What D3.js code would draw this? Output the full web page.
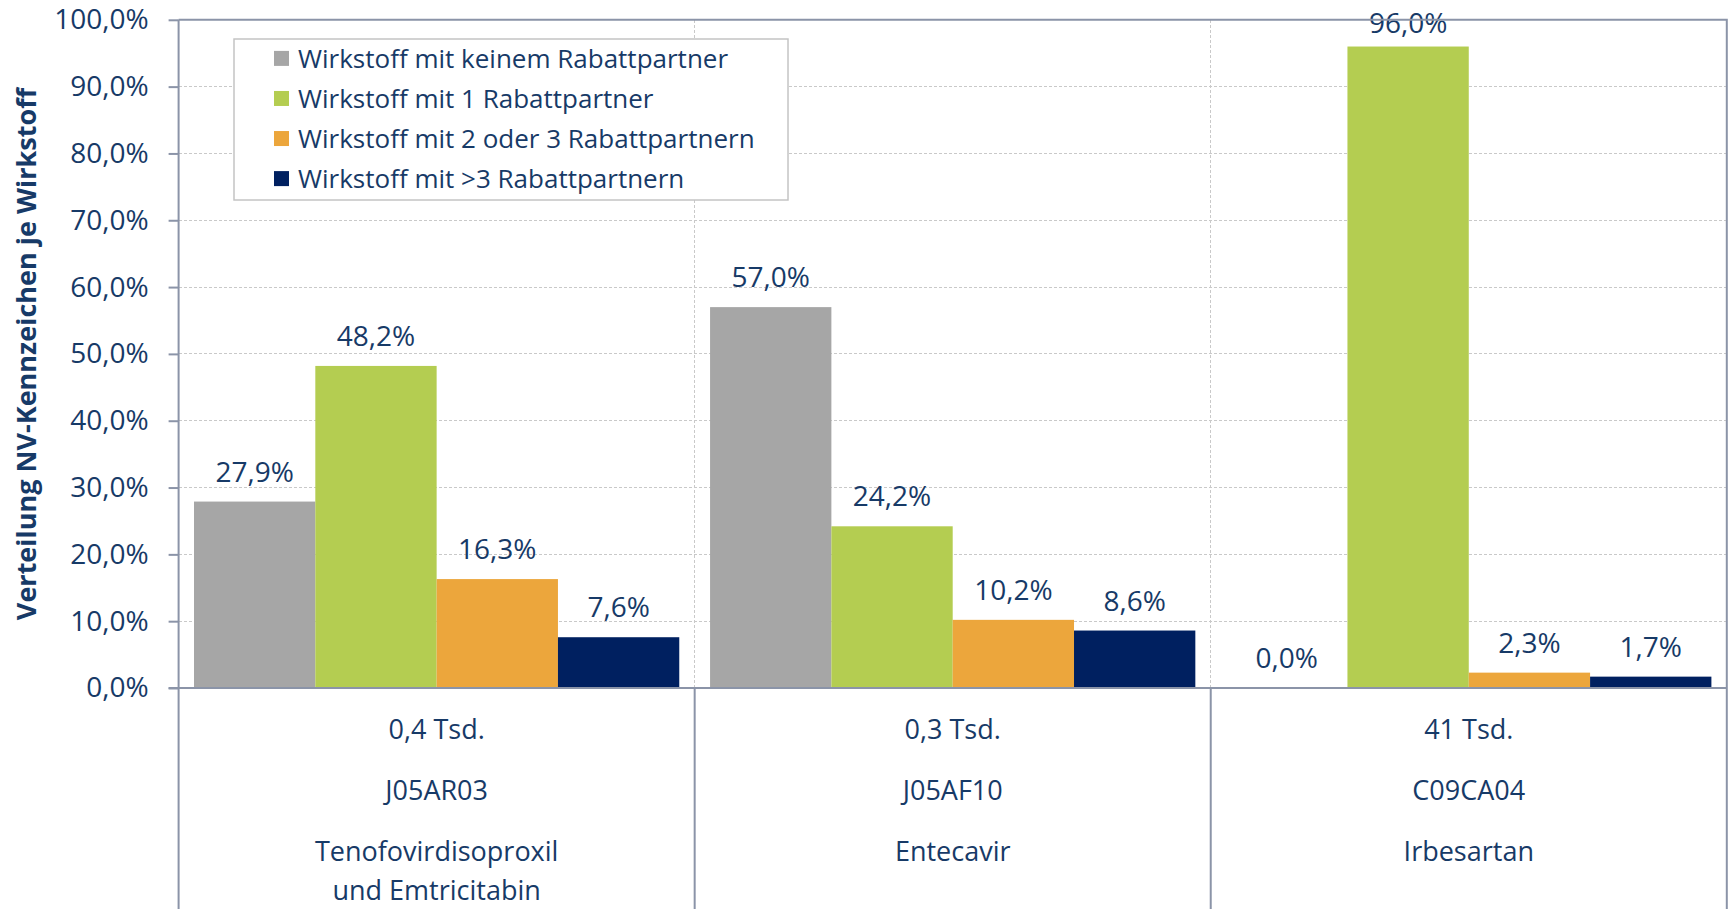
<!DOCTYPE html>
<html>
<head>
<meta charset="utf-8">
<title>Verteilung NV-Kennzeichen</title>
<script src="https://d3js.org/d3.v7.min.js"></script>
<style>
  body { margin: 0; background: #fff; }
  text { font-family: "Open Sans", "Noto Sans", sans-serif; fill: #173a67; }
  .grid line { stroke: #c9c9c9; stroke-dasharray: 3,2; shape-rendering: crispEdges; }
  .frame { stroke: #8b94a8; stroke-width: 2; fill: none; }
  .axis path { display: none; }
  .axis line { stroke: #8b94a8; stroke-width: 2; }
</style>
</head>
<body>
<svg width="1729" height="909"></svg>
<script>
// ---- data ----
var codes = ["J05AR03", "J05AF10", "C09CA04"];
var volumes = ["0,4 Tsd.", "0,3 Tsd.", "41 Tsd."];
var names = [["Tenofovirdisoproxil", "und Emtricitabin"], ["Entecavir"], ["Irbesartan"]];
var seriesNames = [
  "Wirkstoff mit keinem Rabattpartner",
  "Wirkstoff mit 1 Rabattpartner",
  "Wirkstoff mit 2 oder 3 Rabattpartnern",
  "Wirkstoff mit >3 Rabattpartnern"
];
var keinem = [27.9, 57.0, 0.0];
var einem = [48.2, 24.2, 96.0];
var zweiDrei = [16.3, 10.2, 2.3];
var mehrDrei = [7.6, 8.6, 1.7];
var yTicks = [0, 10, 20, 30, 40, 50, 60, 70, 80, 90, 100];
var colors = ["#a6a6a6", "#b4cd51", "#eca63c", "#002060"];
var yTitle = "Verteilung NV-Kennzeichen je Wirkstoff";

var values = [keinem, einem, zweiDrei, mehrDrei];

var svg = d3.select("svg"),
    pL = 178.6, pR = 1726.8, pT = 19.8, pB = 688;

var de = d3.formatLocale({decimal: ",", thousands: ".", grouping: [3], currency: ["", " €"]});
var pct = de.format(".1f");

var x = d3.scaleBand().domain(codes).range([pL, pR]).padding(0);
var xs = d3.scaleBand().domain(d3.range(seriesNames.length))
    .range([15.4, x.bandwidth() - 15.4]).padding(0);
var y = d3.scaleLinear().domain([0, 100]).range([pB, pT]);

// horizontal gridlines
svg.append("g").attr("class", "grid")
  .selectAll("line").data(yTicks.filter(function(d) { return d > 0 && d < 100; }))
  .join("line")
    .attr("x1", pL).attr("x2", pR)
    .attr("y1", function(d) { return y(d); }).attr("y2", function(d) { return y(d); });

// vertical gridlines between categories
svg.append("g").attr("class", "grid")
  .selectAll("line").data(codes.slice(1))
  .join("line")
    .attr("x1", function(d) { return x(d); }).attr("x2", function(d) { return x(d); })
    .attr("y1", pT).attr("y2", pB);

// bars
var groups = svg.append("g").selectAll("g").data(values).join("g")
  .attr("fill", function(d, i) { return colors[i]; });

groups.selectAll("rect")
  .data(function(d, i) { return d.map(function(v, j) { return {s: i, c: codes[j], v: v}; }); })
  .join("rect")
    .attr("x", function(d) { return x(d.c) + xs(d.s); })
    .attr("width", xs.bandwidth())
    .attr("y", function(d) { return y(d.v); })
    .attr("height", function(d) { return pB - y(d.v); });

// data labels
groups.selectAll("text")
  .data(function(d, i) { return d.map(function(v, j) { return {s: i, c: codes[j], v: v}; }); })
  .join("text")
    .attr("x", function(d) { return x(d.c) + xs(d.s) + xs.bandwidth() / 2; })
    .attr("y", function(d) { return Math.max(y(d.v) - 30, 23); })
    .attr("dy", "0.36em")
    .attr("text-anchor", "middle")
    .style("font-size", "28px")
    .text(function(d) { return pct(d.v) + "%"; });

// frame: top and right border, bottom axis line
svg.append("path").attr("class", "frame")
  .attr("d", "M" + pL + "," + pT + "H" + pR + "V" + pB);
svg.append("line").attr("class", "frame")
  .attr("x1", pL - 10).attr("x2", pR).attr("y1", pB).attr("y2", pB);

// category separators below the axis (and left axis line)
svg.append("g").selectAll("line")
  .data(codes.map(function(c) { return x(c); }).concat([pR]))
  .join("line").attr("class", "frame")
    .attr("x1", function(d) { return d; }).attr("x2", function(d) { return d; })
    .attr("y1", function(d, i) { return (i === 0) ? pT : pB; })
    .attr("y2", 909);

// y axis
var yAxis = d3.axisLeft(y).tickValues(yTicks).tickSize(10).tickPadding(20)
  .tickFormat(function(d) { return pct(d) + "%"; });
svg.append("g").attr("class", "axis")
  .attr("transform", "translate(" + pL + ",0)")
  .call(yAxis)
  .call(function(g) {
    g.selectAll("text").style("font-size", "28px").attr("fill", null);
  });

// y axis title
svg.append("text")
  .attr("transform", "translate(26,354) rotate(-90)")
  .attr("text-anchor", "middle")
  .attr("dy", "0.36em")
  .style("font-size", "27px")
  .style("font-weight", "bold")
  .text(yTitle);

// category labels
var cat = svg.append("g").selectAll("g").data(codes).join("g")
  .attr("transform", function(d) { return "translate(" + (x(d) + x.bandwidth() / 2) + ",0)"; });
cat.append("text").attr("y", 729).attr("dy", "0.36em").attr("text-anchor", "middle")
  .style("font-size", "27px").text(function(d, i) { return volumes[i]; });
cat.append("text").attr("y", 790.6).attr("dy", "0.36em").attr("text-anchor", "middle")
  .style("font-size", "27px").text(function(d) { return d; });
cat.append("text").attr("y", 851.3).attr("text-anchor", "middle")
  .style("font-size", "27px")
  .selectAll("tspan").data(function(d, i) { return names[i]; }).join("tspan")
    .attr("x", 0)
    .attr("dy", function(d, i) { return i === 0 ? "0.36em" : "38.6px"; })
    .text(function(d) { return d; });

// legend
var legend = svg.append("g");
legend.append("rect")
  .attr("x", 234).attr("y", 39).attr("width", 554).attr("height", 161)
  .attr("fill", "#fff").attr("stroke", "#c4c4c4").attr("stroke-width", 1.5);
var ly = d3.scalePoint().domain(seriesNames).range([58.4, 178.6]);
var item = legend.selectAll("g.item").data(seriesNames).join("g").attr("class", "item")
  .attr("transform", function(d) { return "translate(0," + ly(d) + ")"; });
item.append("rect").attr("x", 274).attr("y", -7.5).attr("width", 15).attr("height", 15)
  .attr("fill", function(d, i) { return colors[i]; });
item.append("text").attr("x", 298).attr("dy", "0.36em")
  .style("font-size", "26px").text(function(d) { return d; });
</script>
</body>
</html>
